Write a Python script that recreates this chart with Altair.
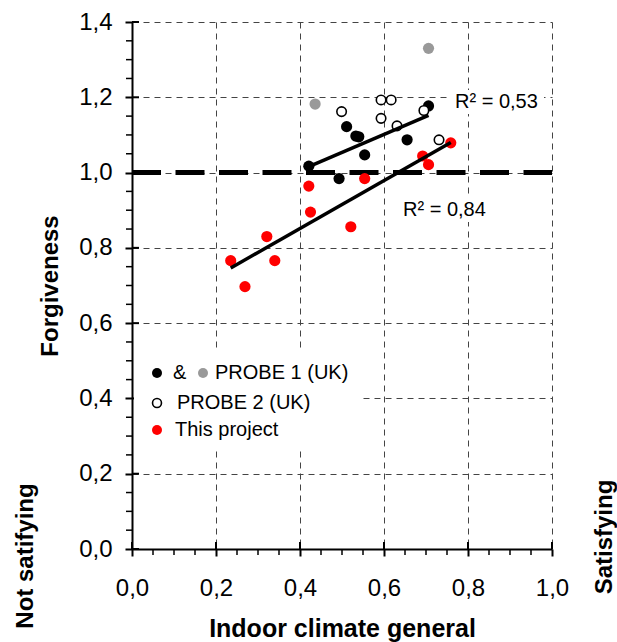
import altair as alt
import pandas as pd

# ---------------- data ----------------
probe1_black_x = [0.421, 0.493, 0.511, 0.533, 0.540, 0.554, 0.655, 0.706]
probe1_black_y = [1.017, 0.984, 1.122, 1.097, 1.095, 1.047, 1.087, 1.177]
probe1_gray_x = [0.436, 0.706]
probe1_gray_y = [1.182, 1.330]
probe2_x = [0.499, 0.593, 0.617, 0.593, 0.631, 0.695, 0.731]
probe2_y = [1.162, 1.193, 1.193, 1.144, 1.124, 1.165, 1.087]
project_x = [0.235, 0.269, 0.321, 0.340, 0.421, 0.425, 0.521, 0.554, 0.692, 0.706, 0.759]
project_y = [0.766, 0.697, 0.830, 0.766, 0.964, 0.895, 0.856, 0.984, 1.044, 1.021, 1.079]

reference_level = [1.0]
x_major = [0.0, 0.2, 0.4, 0.6, 0.8, 1.0]
y_major = [0.0, 0.2, 0.4, 0.6, 0.8, 1.0, 1.2, 1.4]
x_minor = [0.05, 0.10, 0.15, 0.25, 0.30, 0.35, 0.45, 0.50, 0.55,
           0.65, 0.70, 0.75, 0.85, 0.90, 0.95]
y_minor = [0.05, 0.10, 0.15, 0.25, 0.30, 0.35, 0.45, 0.50, 0.55,
           0.65, 0.70, 0.75, 0.85, 0.90, 0.95, 1.05, 1.10, 1.15,
           1.25, 1.30, 1.35]

legend_labels = ["PROBE 1 (UK)", "PROBE 2 (UK)", "This project"]
r2_labels = ["R\u00b2 = 0,53", "R\u00b2 = 0,84"]
x_title = "Indoor climate general"
y_title = "Forgiveness"
low_label = "Not satifying"
high_label = "Satisfying"

# ---------------- tables ----------------
def grp(xs, ys, g):
    return pd.DataFrame({"x": xs, "y": ys, "g": g})

pts = pd.concat([
    grp(probe1_black_x, probe1_black_y, "black"),
    grp(probe1_gray_x, probe1_gray_y, "gray"),
    grp(probe2_x, probe2_y, "open"),
    grp(project_x, project_y, "red"),
], ignore_index=True)

FONT = "Liberation Sans, Arial, Helvetica, sans-serif"
W, H = 420, 527

lab_expr = "replace(format(datum.value, '.1f'), '.', ',')"

x_axis = alt.Axis(
    values=x_major, labelExpr=lab_expr, labelFont=FONT, labelFontSize=24,
    labelColor="black", labelPadding=20, labelFlush=False, labelOverlap=False,
    ticks=True, tickSize=7, tickWidth=2, tickColor="black",
    domain=True, domainColor="black", domainWidth=2,
    grid=True, gridColor="#444444", gridDash=[6, 5], gridWidth=1,
    title=x_title, titleFont=FONT, titleFontSize=25, titleFontWeight="bold",
    titleColor="black", titleY=67, titleBaseline="top",
)
y_axis = alt.Axis(
    values=y_major, labelExpr=lab_expr, labelFont=FONT, labelFontSize=24,
    labelColor="black", labelPadding=13, labelFlush=False, labelOverlap=False,
    ticks=True, tickSize=7, tickWidth=2, tickColor="black",
    domain=True, domainColor="black", domainWidth=2,
    grid=True, gridColor="#444444", gridDash=[6, 5], gridWidth=1,
    title=y_title, titleFont=FONT, titleFontSize=24, titleFontWeight="bold",
    titleColor="black", titleX=-70, titleY=H / 2, titleAngle=270,
    titleBaseline="bottom", titleAlign="center",
)

xs = alt.Scale(domain=[0, 1], nice=False, zero=False)
ys = alt.Scale(domain=[0, 1.4], nice=False, zero=False)
X = alt.X("x:Q", scale=xs, axis=x_axis)
Y = alt.Y("y:Q", scale=ys, axis=y_axis)

one = alt.Data(values=[{"k": 0}])

# thick dashed reference line at 1.0
ref = alt.Chart(pd.DataFrame({"y": reference_level})).mark_rule(
    color="black", strokeWidth=5, strokeDash=[29, 14.5], strokeCap="butt"
).encode(y=Y, x=alt.value(0), x2=alt.value(W))

# ticks drawn as rules (inner half of major ticks, and minor ticks)
xmaj_in = alt.Chart(pd.DataFrame({"x": x_major})).mark_rule(color="black", strokeWidth=2).encode(
    x=X, y=alt.value(H - 7), y2=alt.value(H))
ymaj_in = alt.Chart(pd.DataFrame({"y": y_major})).mark_rule(color="black", strokeWidth=2).encode(
    y=Y, x=alt.value(0), x2=alt.value(7))
xmin_t = alt.Chart(pd.DataFrame({"x": x_minor})).mark_rule(color="black", strokeWidth=1.5).encode(
    x=X, y=alt.value(H), y2=alt.value(H + 6))
ymin_t = alt.Chart(pd.DataFrame({"y": y_minor})).mark_rule(color="black", strokeWidth=1.5).encode(
    y=Y, x=alt.value(-6), x2=alt.value(0))

# white boxes behind labels (cover grid like the original)
legend_box = alt.Chart(one).mark_rect(color="white").encode(
    x=alt.value(2), x2=alt.value(231), y=alt.value(330), y2=alt.value(427))
r2a_box = alt.Chart(one).mark_rect(color="white").encode(
    x=alt.value(318), x2=alt.value(412), y=alt.value(68), y2=alt.value(92))
r2b_box = alt.Chart(one).mark_rect(color="white").encode(
    x=alt.value(266), x2=alt.value(360), y=alt.value(176), y2=alt.value(200))

base = alt.Chart(pts)
gray = base.transform_filter("datum.g == 'gray'").mark_circle(size=125, color="#999999", opacity=1).encode(x=X, y=Y)
black = base.transform_filter("datum.g == 'black'").mark_circle(size=125, color="black", opacity=1).encode(x=X, y=Y)
openc = base.transform_filter("datum.g == 'open'").mark_point(
    shape="circle", size=90, fill="white", fillOpacity=1, stroke="black", strokeWidth=1.6, opacity=1
).encode(x=X, y=Y)
red = base.transform_filter("datum.g == 'red'").mark_circle(size=125, color="#ff0000", opacity=1).encode(x=X, y=Y)

reg_black = base.transform_filter("datum.g == 'black'").transform_regression("x", "y").mark_line(
    color="black", strokeWidth=3.5).encode(x=X, y=Y)
reg_red = base.transform_filter("datum.g == 'red'").transform_regression("x", "y").mark_line(
    color="black", strokeWidth=3.5).encode(x=X, y=Y)

def txt(s, x, y, size=20, weight="normal", angle=0, align="left", baseline="middle"):
    return alt.Chart(one).mark_text(
        text=s, font=FONT, fontSize=size, fontWeight=weight, angle=angle,
        align=align, baseline=baseline, color="black"
    ).encode(x=alt.value(x), y=alt.value(y))

r2a = txt(r2_labels[0], 323, 80)
r2b = txt(r2_labels[1], 271, 188)

# custom legend
lg_black = alt.Chart(one).mark_circle(size=100, color="black", opacity=1).encode(x=alt.value(25), y=alt.value(351))
lg_amp = txt("&", 41, 351)
lg_gray = alt.Chart(one).mark_circle(size=100, color="#999999", opacity=1).encode(x=alt.value(71), y=alt.value(351))
lg_t1 = txt(legend_labels[0], 83, 351)
lg_open = alt.Chart(one).mark_point(shape="circle", size=80, fill="white", fillOpacity=1,
                                     stroke="black", strokeWidth=1.6, opacity=1).encode(x=alt.value(25), y=alt.value(381))
lg_t2 = txt(legend_labels[1], 45, 381)
lg_red = alt.Chart(one).mark_circle(size=100, color="#ff0000", opacity=1).encode(x=alt.value(25), y=alt.value(408))
lg_t3 = txt(legend_labels[2], 43, 408)

low = txt(low_label, -99, 534, size=24, weight="bold", angle=270, align="center", baseline="alphabetic")
high = txt(high_label, 480, 515, size=24, weight="bold", angle=270, align="center", baseline="alphabetic")

chart = alt.layer(
    ref, xmaj_in, ymaj_in, xmin_t, ymin_t,
    legend_box, r2a_box, r2b_box,
    gray, black, openc, red, reg_black, reg_red,
    r2a, r2b,
    lg_black, lg_amp, lg_gray, lg_t1, lg_open, lg_t2, lg_red, lg_t3,
    low, high,
).properties(
    width=W, height=H,
    autosize=alt.AutoSizeParams(type="none"),
    padding={"left": 132, "top": 22, "right": 65, "bottom": 93},
    background="white",
).configure_view(strokeWidth=0)

chart.save("out.html", embed_options={"renderer": "svg", "actions": False})
